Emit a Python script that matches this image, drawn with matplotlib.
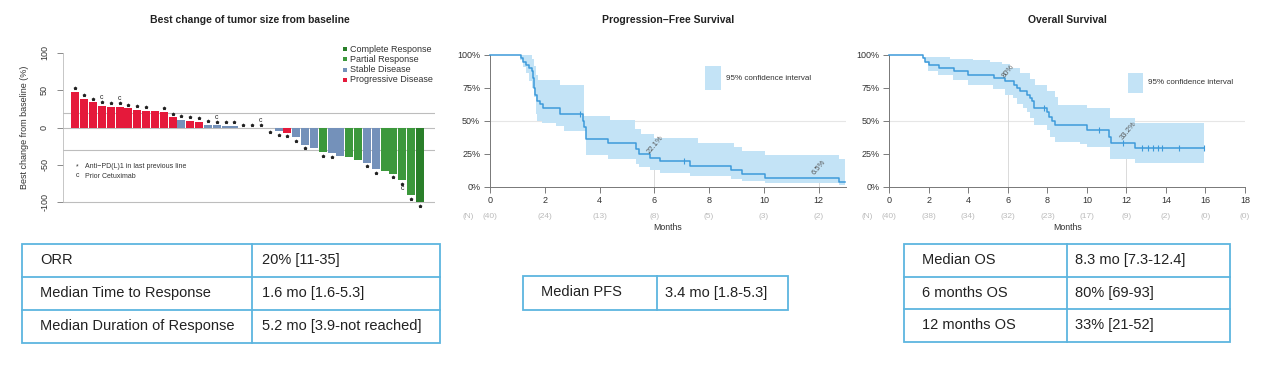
import numpy as np
import matplotlib
matplotlib.use("Agg")
import matplotlib.pyplot as plt
from matplotlib import transforms
from matplotlib.patches import Rectangle

plt.rcParams["font.family"] = ["Liberation Sans", "DejaVu Sans"]

# waterfall: best change of tumor size (%), one bar per patient
wf_change = [48, 38, 33.5, 28.5, 27.7, 27.3, 25.5, 24, 22.3, 22, 21, 13.4,
             9.8, 9, 7.6, 3.1, 3, 1.8, 1.8, 0, 0, 0, -1, -5, -7, -12.5,
             -22.8, -28, -32.6, -34.5, -38.5, -38.8, -43, -47, -55.4, -58.5,
             -61.7, -70.6, -90.7, -100]
wf_resp = (["PD"] * 12 + ["SD", "PD", "PD"] + ["SD"] * 4 + ["SD"] * 3
           + ["SD", "SD", "PD"] + ["SD"] * 3 + ["PR", "SD", "SD", "PR", "PR",
           "SD", "SD", "PR", "PR", "PR", "PR", "CR"])
wf_pd1 = [1, 1, 1, 1, 1, 1, 1, 1, 1, 0, 1, 1, 1, 1, 1, 1, 1, 1, 1, 1,
          1, 1, 1, 1, 1, 1, 1, 0, 1, 1, 0, 0, 0, 1, 1, 0, 1, 1, 1, 1]
wf_cetux = [4, 6, 17, 22, 38]
resp_names = ["Complete Response", "Partial Response", "Stable Disease", "Progressive Disease"]
resp_keys = ["CR", "PR", "SD", "PD"]

# progression-free survival (months, %)
pfs_t = [0, 1.12, 1.22, 1.32, 1.42, 1.52, 1.58, 1.62, 1.66, 1.70, 1.83, 1.95,
         2.56, 3.38, 3.45, 3.52, 4.32, 5.33, 5.45, 5.85, 6.2, 7.3, 8.8, 9.2, 10.05, 12.75]
pfs_s = [100, 97.5, 95, 92.5, 90, 87.5, 82.5, 75, 70, 65, 62.5, 60,
         55, 50, 45, 36, 33, 28.5, 25, 22.1, 19.2, 16, 12.8, 9.6, 6.5, 3.5]
pfs_end = 12.95
pfs_censor = [3.28, 7.1]
pfs_hi_t = [0, 1.55, 1.62, 1.68, 1.76, 2.56, 3.43, 4.4, 5.3, 5.5, 6.0, 7.6, 8.9, 9.2, 10.05, 12.75]
pfs_hi_s = [100, 97, 92, 85, 81, 77, 54, 50.6, 44, 40, 37, 33, 30, 27, 24, 21]
pfs_lo_t = [0, 1.1, 1.2, 1.3, 1.42, 1.52, 1.6, 1.68, 1.72, 1.9, 2.4, 2.7, 3.52,
            4.3, 5.33, 5.45, 5.85, 6.2, 7.3, 8.8, 9.2, 10.05, 12.75]
pfs_lo_s = [100, 96, 91, 86, 80, 75, 68, 55, 50, 48, 46, 42, 24,
            21, 17.5, 15, 12.7, 10.7, 8, 6, 4.5, 3, 1.5]
pfs_ticks = [0, 2, 4, 6, 8, 10, 12]
pfs_risk = [40, 24, 13, 8, 5, 3, 2]
pfs_marks = [(6, 22.1, "22.1%"), (12, 6.5, "6.5%")]

# overall survival (months, %)
os_t = [0, 1.7, 1.8, 2.0, 2.5, 3.25, 4.0, 5.3, 5.85, 6.3, 6.45, 6.6, 6.96,
        7.1, 7.2, 7.3, 7.97, 8.1, 8.25, 8.4, 10.0, 11.1, 11.2, 12.45]
os_s = [100, 97.5, 95, 92.5, 90, 87.5, 85, 82.5, 80, 77.5, 75, 72.5, 70,
        67.5, 65, 60, 57, 53, 50, 47, 43, 38, 33.2, 29.1]
os_end = 15.9
os_censor = [7.85, 10.6, 11.85, 12.8, 13.1, 13.35, 13.6, 13.8, 14.65, 15.9]
os_hi_t = [0, 1.69, 3.07, 4.26, 5.1, 5.69, 6.11, 6.62, 7.13, 7.38, 7.97, 8.4, 8.56, 10.0, 11.18, 12.45]
os_hi_s = [100, 98.7, 97, 96, 95, 93, 90, 86.6, 82, 77, 73, 68, 62, 60, 52, 48.6]
os_lo_t = [0, 1.69, 1.81, 1.98, 2.48, 3.24, 4.0, 5.27, 5.86, 6.28, 6.45, 6.79,
           6.96, 7.13, 7.3, 7.97, 8.14, 8.4, 9.66, 10.0, 11.18, 12.45]
os_lo_s = [100, 97.5, 93.7, 88, 85, 81, 77, 74, 70, 67, 63, 60,
           57, 52, 47, 43, 38, 34, 32.4, 30, 21, 17.7]
os_ticks = [0, 2, 4, 6, 8, 10, 12, 14, 16, 18]
os_risk = [40, 38, 34, 32, 23, 17, 9, 2, 0, 0]
os_marks = [(6, 80, "80%"), (12, 33.2, "33.2%")]

# summary tables
tab_left = [("ORR", "20% [11-35]"),
            ("Median Time to Response", "1.6 mo [1.6-5.3]"),
            ("Median Duration of Response", "5.2 mo [3.9-not reached]")]
tab_mid = [("Median PFS", "3.4 mo [1.8-5.3]")]
tab_right = [("Median OS", "8.3 mo [7.3-12.4]"),
             ("6 months OS", "80% [69-93]"),
             ("12 months OS", "33% [21-52]")]

W, H = 1285, 368
colors = {"CR": "#2A7F2A", "PR": "#3C983C", "SD": "#7491BA", "PD": "#E5193B"}
BLUE = "#3D9ADA"
BAND = "#C3E3F6"
EDGE = "#5DB5DF"
GREY_TXT = "#333333"

fig = plt.figure(figsize=(W / 100, H / 100), dpi=100)


def px_axes(left, top, right, bottom):
    return fig.add_axes([left / W, 1 - bottom / H, (right - left) / W, (bottom - top) / H])


# overlay in pixel coordinates for free text, legends and tables
ov = fig.add_axes([0, 0, 1, 1], zorder=10)
ov.set_xlim(0, W)
ov.set_ylim(H, 0)
ov.axis("off")

# ---------------- waterfall ----------------
ax = px_axes(63, 40, 435, 215)
idx = np.arange(len(wf_change))
ax.bar(idx, wf_change, width=0.9, color=[colors[r] for r in wf_resp], zorder=3)
for yy in [20, 0, -30, -100]:
    ax.axhline(yy, color="#BDBDBD", lw=0.8, zorder=1)
ax.set_xlim(-1.4, 40.7)
ax.set_ylim(-117, 117)
ax.set_xticks([])
ax.set_yticks([100, 50, 0, -50, -100])
ax.set_yticklabels(["100", "50", "0", "-50", "-100"], rotation=90, va="center",
                   fontsize=6.5, color=GREY_TXT)
ax.tick_params(axis="y", length=4, width=0.6, color="#777777", pad=6)
for sp in ["top", "right", "bottom"]:
    ax.spines[sp].set_visible(False)
ax.spines["left"].set_bounds(-100, 100)
ax.spines["left"].set_color("#BDBDBD")
ax.spines["left"].set_linewidth(0.6)
ax.set_ylabel("Best change from baseline (%)", fontsize=6.5, color=GREY_TXT, labelpad=8)

for i, v in enumerate(wf_change):
    if v > 0:
        ys = v + 5
    elif v == 0:
        ys = 4
    else:
        ys = v - 5
    if wf_pd1[i]:
        ax.scatter(i, ys, marker="*", s=3, color="#222222", zorder=4, clip_on=False)
    if (i + 1) in wf_cetux:
        yc = ys + 6 if v >= 0 else ys - 6
        ax.text(i, yc, "c", fontsize=5, ha="center", va="center", color="#222222")

for k, (key, name) in enumerate(zip(resp_keys, resp_names)):
    yy = 49 + k * 10.3
    ov.add_patch(Rectangle((343, yy - 2), 4, 4, color=colors[key], lw=0))
    ov.text(350, yy, name, fontsize=6.5, va="center", color=GREY_TXT)
ov.text(77.5, 167, "*", fontsize=5, ha="center", va="center", color=GREY_TXT)
ov.text(85, 166, "Anti\u2212PD(L)1 in last previous line", fontsize=5, va="center", color=GREY_TXT)
ov.text(77.5, 175.5, "c", fontsize=5, ha="center", va="center", color=GREY_TXT)
ov.text(85, 176, "Prior Cetuximab", fontsize=5, va="center", color=GREY_TXT)
ov.text(250, 20, "Best change of tumor size from baseline", fontsize=7.5,
        fontweight="bold", ha="center", va="center", color="#222222")


# ---------------- KM panels ----------------
def step_val(ts, ss, x):
    j = np.searchsorted(ts, x, side="right") - 1
    return np.asarray(ss, dtype=float)[j]


def km_panel(left, right, title, t, s, end, censor, hi_t, hi_s, lo_t, lo_s,
             ticks, risk, marks, leg_box, tcx):
    a = px_axes(left, 55, right, 186.7)
    xmax = (13 if ticks[-1] < 13 else ticks[-1])
    a.set_xlim(0, xmax)
    a.set_ylim(0, 100)
    grid = np.unique(np.concatenate([hi_t, lo_t, [end]]))
    hi = step_val(hi_t, hi_s, grid)
    lo = step_val(lo_t, lo_s, grid)
    a.fill_between(grid, lo, hi, step="post", color=BAND, lw=0, zorder=2)
    a.step(list(t) + [end], list(s) + [s[-1]], where="post", color=BLUE, lw=1.1,
           zorder=4, clip_on=False)
    cy = step_val(t, s, np.array(censor))
    a.scatter(censor, cy, marker="|", s=14, color=BLUE, lw=0.8, zorder=5)
    a.axhline(50, color="#E6E6E6", lw=0.8, zorder=1)
    for m, v, lab in marks:
        a.plot([m, m], [0, v], color="#DADADA", lw=0.7, zorder=1)
        a.text(m - 0.1, v + 1.5, lab, rotation=50, fontsize=5.5, color="#555555",
               ha="left", va="bottom", rotation_mode="anchor", zorder=6)
    a.set_yticks([0, 25, 50, 75, 100])
    a.set_yticklabels(["0%", "25%", "50%", "75%", "100%"])
    a.set_xticks(ticks)
    a.tick_params(labelsize=6.5, labelcolor=GREY_TXT, length=4, width=0.6,
                  color="#666666", pad=3)
    for sp in ["top", "right"]:
        a.spines[sp].set_visible(False)
    for sp in ["left", "bottom"]:
        a.spines[sp].set_color("#777777")
        a.spines[sp].set_linewidth(0.7)
    a.patch.set_alpha(0)
    bt = transforms.blended_transform_factory(a.transData, ov.transData)
    for x, n in zip(ticks, risk):
        ov.text(x, 216, f"({n})", transform=bt, fontsize=6, color="#BBBBBB",
                ha="center", va="center")
    ov.text(left - 22, 216, "(N)", fontsize=6, color="#BBBBBB", ha="center", va="center")
    ov.text((left + right) / 2, 228, "Months", fontsize=6.3, color=GREY_TXT,
            ha="center", va="center")
    ov.text(tcx, 20, title, fontsize=7.5, fontweight="bold", ha="center",
            va="center", color="#222222")
    bx, by, bw, bh = leg_box
    ov.add_patch(Rectangle((bx, by), bw, bh, color=BAND, lw=0))
    ov.text(bx + bw + 5, by + bh / 2, "95% confidence interval", fontsize=5.8,
            color=GREY_TXT, va="center")
    return a


km_panel(490, 846, "Progression\u2212Free Survival", pfs_t, pfs_s, pfs_end, pfs_censor,
         pfs_hi_t, pfs_hi_s, pfs_lo_t, pfs_lo_s, pfs_ticks, pfs_risk, pfs_marks,
         (705, 66, 16, 24), 668)
km_panel(889.3, 1245, "Overall Survival", os_t, os_s, os_end, os_censor,
         os_hi_t, os_hi_s, os_lo_t, os_lo_s, os_ticks, os_risk, os_marks,
         (1128, 73, 15, 20), 1067)


# ---------------- tables ----------------
def draw_table(rows, left, split, right, top, row_h, tx1, tx2):
    n = len(rows)
    bottom = top + n * row_h
    ov.add_patch(Rectangle((left, top), right - left, bottom - top, fill=False,
                           ec=EDGE, lw=1.3))
    ov.plot([split, split], [top, bottom], color=EDGE, lw=1.3)
    for k in range(1, n):
        ov.plot([left, right], [top + k * row_h] * 2, color=EDGE, lw=1.3)
    for k, (a, b) in enumerate(rows):
        yc = top + (k + 0.5) * row_h
        ov.text(tx1, yc, a, fontsize=10.5, va="center", color="#222222")
        ov.text(tx2, yc, b, fontsize=10.5, va="center", color="#222222")


draw_table(tab_left, 22, 252, 440, 243.5, 33, 40, 262)
draw_table(tab_mid, 523, 657, 788, 275.5, 34, 541, 665)
draw_table(tab_right, 904, 1067, 1230, 244, 32.5, 922, 1075)

fig.savefig("out.png", dpi=100)
